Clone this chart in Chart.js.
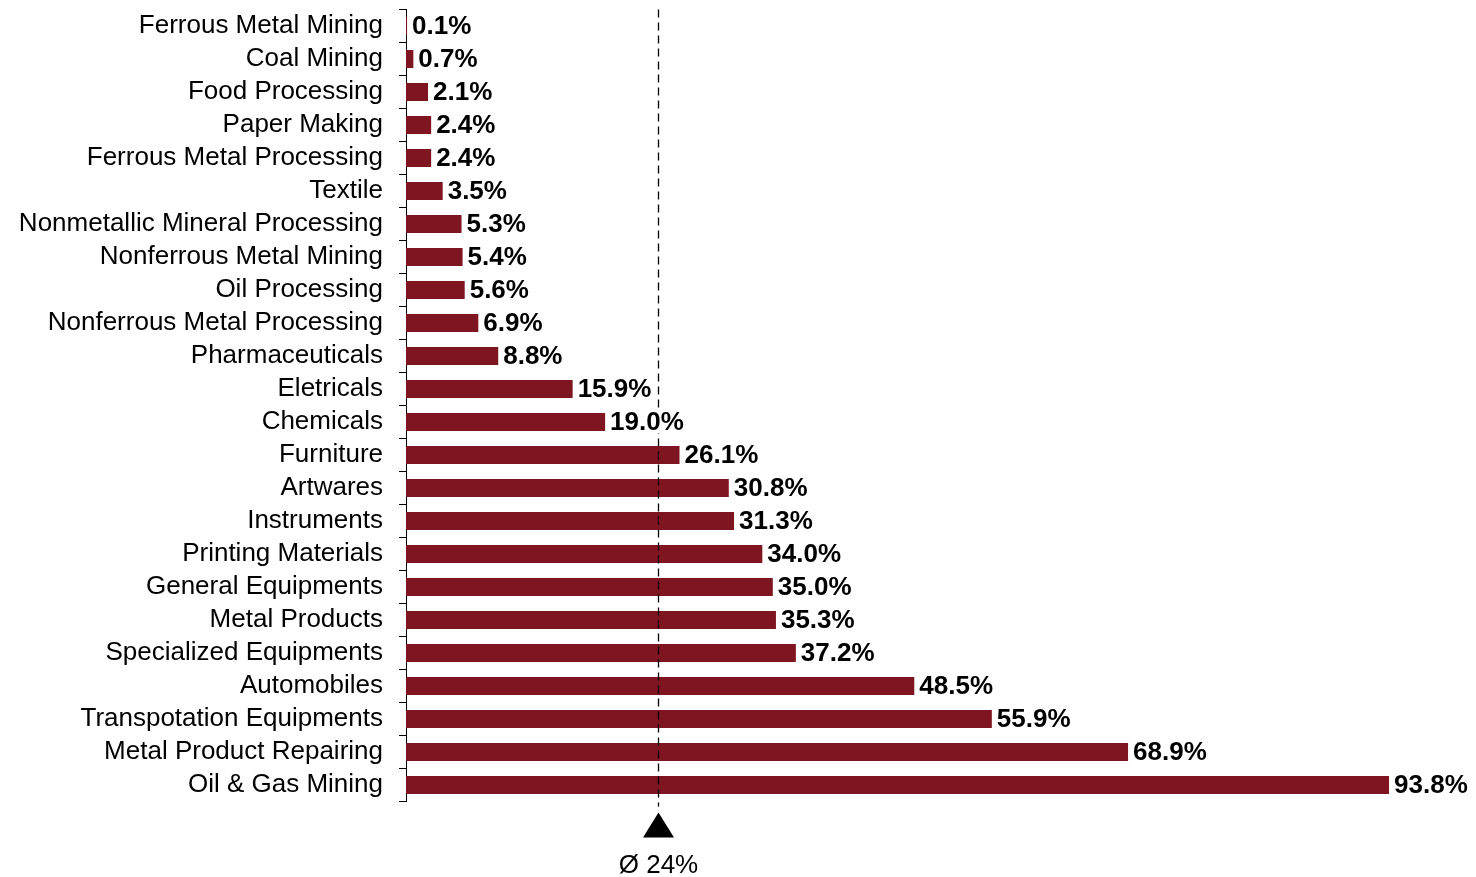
<!DOCTYPE html>
<html><head><meta charset="utf-8">
<script src="https://cdn.jsdelivr.net/npm/chart.js@4.4.0/dist/chart.umd.min.js"></script>
<style>html,body{margin:0;padding:0;background:#fff}#wrap{width:1476px;height:877px}</style>
</head><body><div id="wrap"><canvas id="c"></canvas></div>
<script>
const categories = ["Ferrous Metal Mining","Coal Mining","Food Processing","Paper Making","Ferrous Metal Processing","Textile","Nonmetallic Mineral Processing","Nonferrous Metal Mining","Oil Processing","Nonferrous Metal Processing","Pharmaceuticals","Eletricals","Chemicals","Furniture","Artwares","Instruments","Printing Materials","General Equipments","Metal Products","Specialized Equipments","Automobiles","Transpotation Equipments","Metal Product Repairing","Oil & Gas Mining"];
const values = [0.1,0.7,2.1,2.4,2.4,3.5,5.3,5.4,5.6,6.9,8.8,15.9,19.0,26.1,30.8,31.3,34.0,35.0,35.3,37.2,48.5,55.9,68.9,93.8];
const averageValue = 24;
const averageLabel = "Ø 24%";
const FONT = "'Liberation Sans', Arial, sans-serif";

const avgLinePlugin = {
  id: 'avgLine',
  afterDatasetsDraw(chart) {
    const ctx = chart.ctx, xs = chart.scales.x, area = chart.chartArea;
    const x = Math.round(xs.getPixelForValue(averageValue)) + 0.5;
    ctx.save();
    ctx.strokeStyle = '#000'; ctx.lineWidth = 1.3; ctx.setLineDash([8,5]);
    ctx.beginPath(); ctx.moveTo(x, area.top); ctx.lineTo(x, area.bottom + 5); ctx.stroke();
    ctx.setLineDash([]);
    const meta = chart.getDatasetMeta(0);
    ctx.font = "bold 26px " + FONT;
    ctx.textBaseline = 'middle'; ctx.textAlign = 'left';
    meta.data.forEach((bar, i) => {
      const t = values[i].toFixed(1) + '%';
      const w = ctx.measureText(t).width;
      const lx = bar.x + 5;
      ctx.fillStyle = '#fff';
      ctx.fillRect(lx - 1, bar.y - 11, w + 2, 22);
      ctx.fillStyle = '#000';
      ctx.fillText(t, lx, bar.y + 1);
    });
    const ty = area.bottom + 11;
    ctx.fillStyle = '#000';
    ctx.beginPath(); ctx.moveTo(x, ty); ctx.lineTo(x + 15.5, ty + 25); ctx.lineTo(x - 15.5, ty + 25); ctx.closePath(); ctx.fill();
    ctx.font = "26px " + FONT; ctx.textAlign = 'center';
    ctx.fillText(averageLabel, x, area.bottom + 64);
    ctx.restore();
  }
};

new Chart(document.getElementById('c'), {
  type: 'bar',
  data: { labels: categories, datasets: [{ data: values, backgroundColor: '#7E1521', borderWidth: 0, barPercentage: 0.55, categoryPercentage: 1 }] },
  options: {
    indexAxis: 'y', responsive: true, maintainAspectRatio: false, animation: false,
    layout: { padding: { top: 9.5, bottom: 75.5, left: 0, right: 22 } },
    plugins: { legend: { display: false }, tooltip: { enabled: false } },
    scales: {
      x: { display: false, min: 0, max: 100 },
      y: {
        afterFit(s) { s.width = 406; s.paddingTop = 0; s.paddingBottom = 0; },
        border: { display: true, color: '#000', width: 1 },
        grid: { drawOnChartArea: false, color: '#000', tickLength: 7, offset: true },
        ticks: { color: '#000', padding: 16, autoSkip: false, font: { family: FONT, size: 26 } }
      }
    }
  },
  plugins: [avgLinePlugin]
});
</script></body></html>
